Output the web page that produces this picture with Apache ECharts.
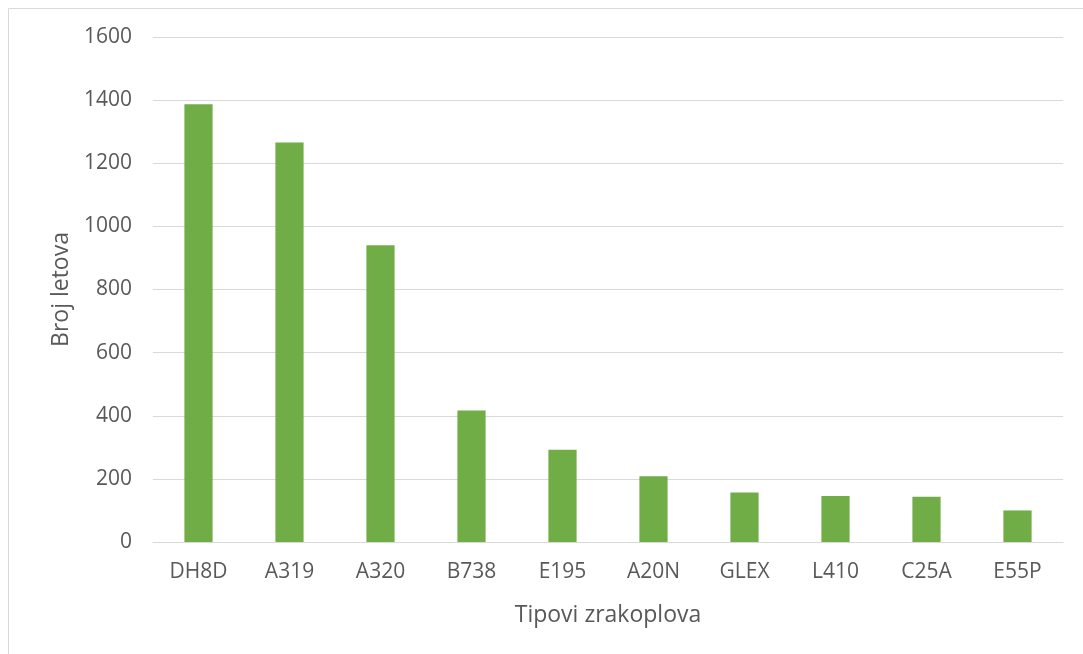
<!DOCTYPE html>
<html><head><meta charset="utf-8">
<script src="https://cdn.jsdelivr.net/npm/echarts@6/dist/echarts.min.js"></script>
<style>html,body{margin:0;padding:0;background:#fff}#c{width:1083px;height:654px}</style>
</head><body><div id="c"></div>
<script>
const categories = ['DH8D','A319','A320','B738','E195','A20N','GLEX','L410','C25A','E55P'];
const flights = [1387, 1266, 940, 417, 292, 208, 157, 146, 143, 100];
const yTicks = { min: 0, max: 1600, interval: 200 };

const chart = echarts.init(document.getElementById('c'), null, {renderer:'canvas'});
const font = '"Open Sans", sans-serif';
chart.setOption({
  animation: false,
  backgroundColor: '#fff',
  graphic: [
    {type:'line', shape:{x1:8.5,y1:8.5,x2:1083,y2:8.5}, style:{stroke:'#d9d9d9', lineWidth:1}},
    {type:'line', shape:{x1:8.5,y1:8.5,x2:8.5,y2:654}, style:{stroke:'#d9d9d9', lineWidth:1}}
  ],
  grid: {left:153, right:20, top:37, bottom:112, containLabel:false},
  xAxis: {
    type:'category', data: categories,
    name:'Tipovi zrakoplova', nameLocation:'middle', nameGap:62,
    nameTextStyle:{fontFamily:font, fontSize:23, color:'#595959'},
    axisLine:{lineStyle:{color:'#d9d9d9', width:1}},
    axisTick:{show:false},
    axisLabel:{fontFamily:font, fontSize:21, color:'#595959', margin:20}
  },
  yAxis: {
    type:'value', min:yTicks.min, max:yTicks.max, interval:yTicks.interval,
    name:'Broj letova', nameLocation:'middle', nameGap:78,
    nameTextStyle:{fontFamily:font, fontSize:23, color:'#595959'},
    axisLine:{show:false}, axisTick:{show:false},
    axisLabel:{fontFamily:font, fontSize:21, color:'#595959', margin:21, formatter: v => String(v)},
    splitLine:{lineStyle:{color:'#d9d9d9', width:1}}
  },
  series: [{
    type:'bar', data: flights, barWidth:'31%',
    itemStyle:{color:'#70ad47'}
  }]
});
</script></body></html>
